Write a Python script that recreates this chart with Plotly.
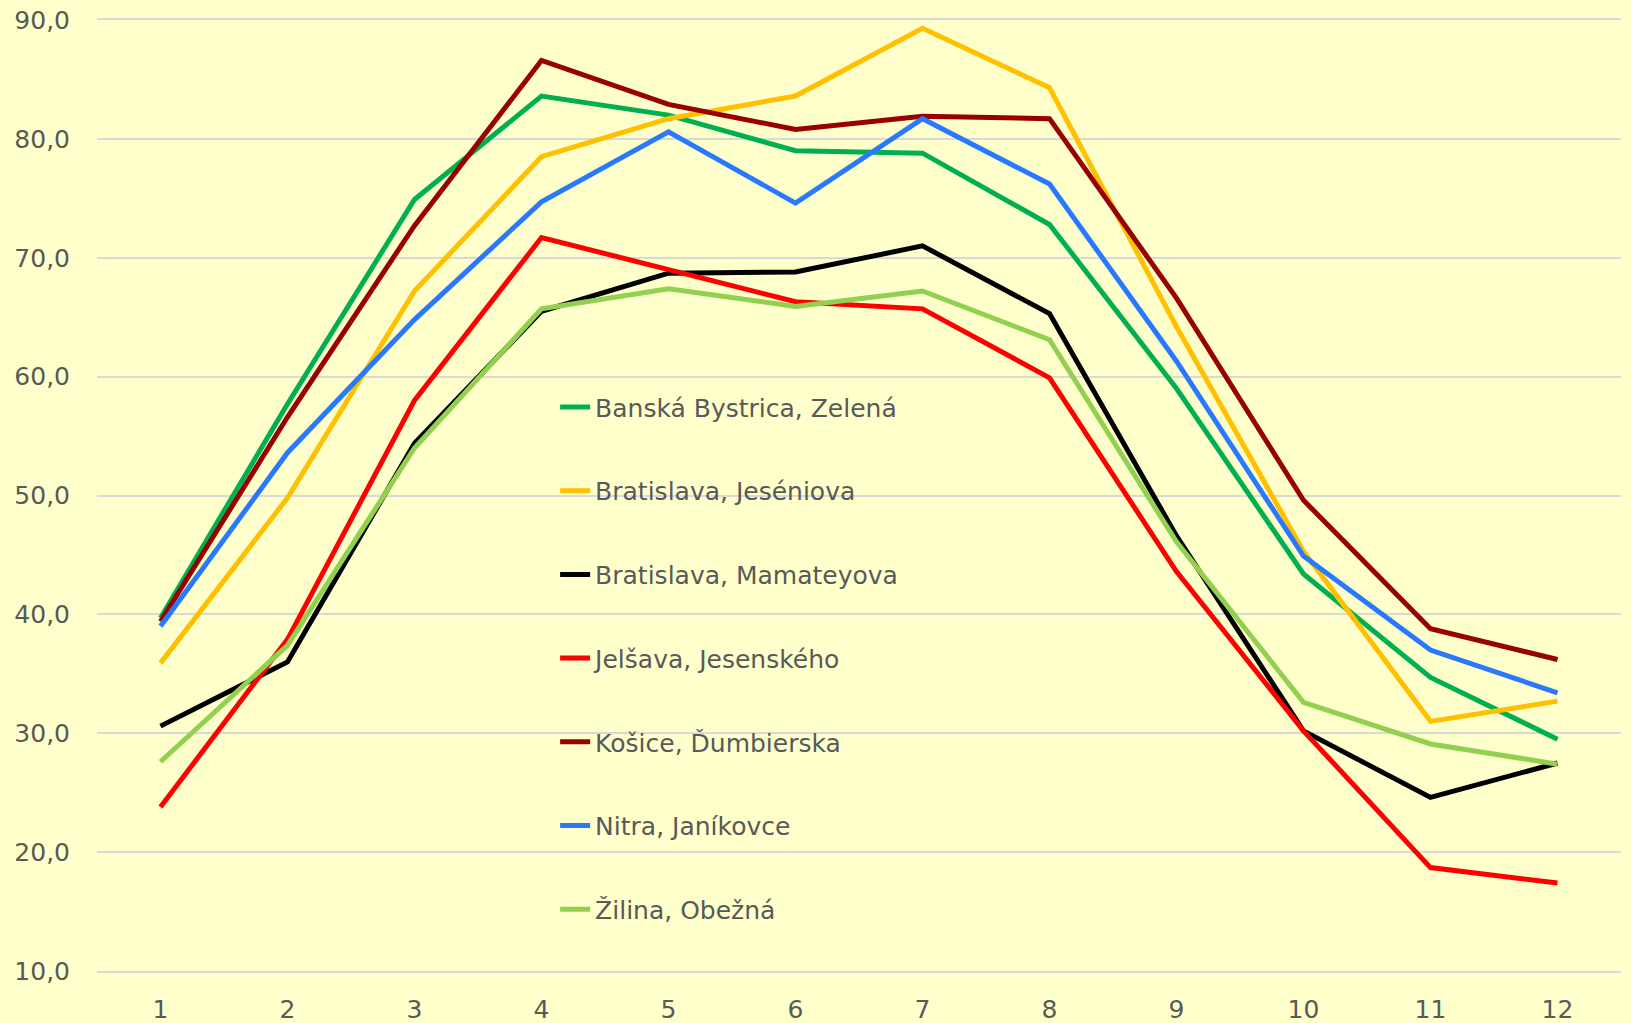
import plotly.graph_objects as go

months = [1, 2, 3, 4, 5, 6, 7, 8, 9, 10, 11, 12]

banska_bystrica = [39.7, 57.7, 74.9, 83.6, 82.0, 79.0, 78.8, 72.8, 59.0, 43.4, 34.7, 29.5]
bratislava_jeseniova = [35.9, 49.8, 67.2, 78.5, 81.7, 83.6, 89.3, 84.3, 64.2, 45.3, 31.0, 32.7]
bratislava_mamateyova = [30.6, 36.0, 54.4, 65.5, 68.7, 68.8, 71.0, 65.3, 46.6, 30.2, 24.6, 27.5]
jelsava = [23.8, 37.9, 58.0, 71.7, 69.0, 66.3, 65.7, 59.9, 43.6, 30.2, 18.7, 17.4]
kosice = [39.4, 56.6, 72.7, 86.6, 82.9, 80.8, 81.9, 81.7, 66.6, 49.6, 38.8, 36.2]
nitra = [39.0, 53.6, 64.8, 74.7, 80.6, 74.6, 81.7, 76.2, 61.3, 44.9, 37.0, 33.4]
zilina = [27.6, 37.4, 54.0, 65.7, 67.4, 65.9, 67.2, 63.1, 46.1, 32.6, 29.1, 27.4]

series_names = [
    "Banská Bystrica, Zelená",
    "Bratislava, Jeséniova",
    "Bratislava, Mamateyova",
    "Jelšava, Jesenského",
    "Košice, Ďumbierska",
    "Nitra, Janíkovce",
    "Žilina, Obežná",
]
series_values = [banska_bystrica, bratislava_jeseniova, bratislava_mamateyova,
                 jelsava, kosice, nitra, zilina]
series_colors = ["#00B050", "#FFC000", "#000000", "#FF0000", "#990000", "#2979FF", "#92D050"]

y_ticks = [10, 20, 30, 40, 50, 60, 70, 80, 90]

fig = go.Figure()
for i, (name, vals, col) in enumerate(zip(series_names, series_values, series_colors)):
    fig.add_trace(go.Scatter(
        x=months, y=vals, name=name, mode="lines",
        line=dict(color=col, width=5),
        legendgroup="g%d" % i,
    ))

font = dict(family="DejaVu Sans", size=25, color="#595959")

fig.update_layout(
    template="none",
    width=1631, height=1023,
    margin=dict(l=97, r=10, t=20, b=52, pad=0),
    paper_bgcolor="#FFFFCC",
    plot_bgcolor="#FFFFCC",
    font=font,
    separators=", ",
    showlegend=True,
    legend=dict(
        x=0.3006, y=0.617, xanchor="left", yanchor="top",
        bgcolor="rgba(0,0,0,0)", borderwidth=0,
        font=font, tracegroupgap=48.2,
    ),
    xaxis=dict(
        range=[0.5, 12.5], tickmode="array", tickvals=months,
        ticktext=[str(m) for m in months],
        showgrid=False, zeroline=False,
        showline=True, mirror=True, linecolor="#D9D9D9", linewidth=1.5,
        ticks="", ticklabelstandoff=15, automargin=False,
    ),
    yaxis=dict(
        range=[10, 90], tickmode="array", tickvals=y_ticks,
        tickformat=".1f",
        showgrid=True, gridcolor="#D9D9D9", gridwidth=1.5,
        zeroline=False, showline=False, ticks="",
        ticklabelstandoff=26, automargin=False,
    ),
)

fig.write_html(
    "out.html",
    config={"displayModeBar": False},
    post_script="document.body.style.margin='0';document.body.style.background='#FFFFCC';",
)
